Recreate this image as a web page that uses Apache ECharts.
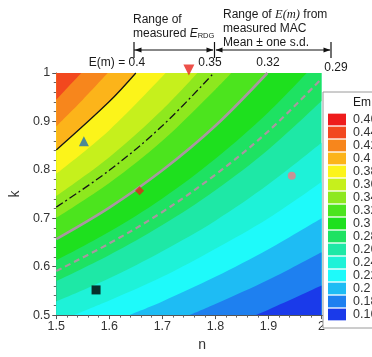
<!DOCTYPE html>
<html><head><meta charset="utf-8">
<script src="https://cdn.jsdelivr.net/npm/echarts@6/dist/echarts.min.js"></script>
<style>html,body{margin:0;padding:0;background:#fff}#c{width:372px;height:357px}</style>
</head><body><div id="c"></div>
<script>
// ---- data ----
const xTicks = [1.5, 1.6, 1.7, 1.8, 1.9, 2];
const yTicks = [0.5, 0.6, 0.7, 0.8, 0.9, 1];
const nDomain = [1.5, 2.0];
const kDomain = [0.5, 1.0];
const legendLabels = ['0.46','0.44','0.42','0.4','0.38','0.36','0.34','0.32','0.3','0.28','0.26','0.24','0.22','0.2','0.18','0.16'];
const bandColors = ['#ee1c1c','#f2481e','#f7861c','#fcb41a','#fcf41a','#c6f01c','#8ee81e','#4ce41e','#1ee01e','#1ee262','#1ee8a6','#1ef2d8','#1efafa','#1ebcf4','#1e80f0','#1a3aea'];

// contour lines E(m)=level, points [n, k]
const c044 = [[1.5,0.945],[1.547,1.0]];
const c042 = [[1.5,0.890],[1.55,0.945],[1.597,1.0]];
const c040 = [[1.5,0.841],[1.6,0.941],[1.650,1.0]];
const c038 = [[1.5,0.792],[1.6,0.882],[1.706,1.0]];
const c036 = [[1.5,0.746],[1.6,0.826],[1.7,0.924],[1.766,1.0]];
const c035 = [[1.5,0.723],[1.6,0.799],[1.7,0.891],[1.797,1.0]];
const c034 = [[1.5,0.701],[1.6,0.773],[1.7,0.860],[1.8,0.966],[1.830,1.0]];
const c032 = [[1.5,0.657],[1.6,0.722],[1.7,0.799],[1.8,0.891],[1.898,1.0]];
const c030 = [[1.5,0.613],[1.6,0.672],[1.7,0.741],[1.8,0.823],[1.9,0.919],[1.972,1.0]];
const c029 = [[1.5,0.591],[1.6,0.648],[1.7,0.713],[1.8,0.790],[1.9,0.880],[2.0,0.988]];
const c028 = [[1.5,0.570],[1.6,0.624],[1.7,0.686],[1.8,0.758],[1.9,0.842],[2.0,0.942]];
const c026 = [[1.5,0.528],[1.6,0.576],[1.7,0.632],[1.8,0.695],[1.9,0.770],[2.0,0.856]];
const c024 = [[1.533,0.5],[1.6,0.530],[1.7,0.579],[1.8,0.637],[1.9,0.700],[2.0,0.775]];
const c022 = [[1.638,0.5],[1.7,0.528],[1.8,0.579],[1.9,0.636],[2.0,0.700]];
const c020 = [[1.751,0.5],[1.8,0.523],[1.9,0.573],[2.0,0.630]];
const c018 = [[1.876,0.5],[1.9,0.511],[2.0,0.561]];

// markers
const markerN = [1.552, 1.750, 1.657, 1.944, 1.575];
const markerK = [0.859, 1.006, 0.757, 0.788, 0.552];
const markerSymbol = ['triangle','triangle','diamond','circle','rect'];
const markerRotate = [0, 180, 0, 0, 0];
const markerSize = [10, 11, 9, 8, 9];
const markerColor = ['#1f6db5','#e8241c','#e2231a','#f07b86','#000000'];

// ---- build ----
const colorOf = lbl => bandColors[legendLabels.indexOf(lbl)];
const FONT = 'Liberation Sans, Arial, sans-serif';
const SMOOTH = 0.35;

function fill(name, pts, origin) {
  const c = colorOf(name);
  return {
    type: 'line', name: name, data: pts, smooth: SMOOTH,
    symbol: 'none', color: c, itemStyle: {color: c},
    lineStyle: {width: 0, color: c},
    areaStyle: {color: c, opacity: 1, origin: origin},
    silent: true, z: 1
  };
}
function contour(pts, color, width, type) {
  return {
    type: 'line', data: pts, smooth: SMOOTH, symbol: 'none',
    lineStyle: {color: color, width: width, type: type}, silent: true, z: 3
  };
}

const series = [];
series.push({type:'line', name:'0.46', data:[], color: colorOf('0.46'), itemStyle:{color: colorOf('0.46')}});
// base band 0.26-0.28 over the whole domain
series.push(fill('0.26', [[nDomain[0], kDomain[0]], [nDomain[1], kDomain[0]]], 'end'));
// lower bands (fill below the contour)
series.push(fill('0.24', c026, 'start'));
series.push(fill('0.22', c024, 'start'));
series.push(fill('0.2', c022, 'start'));
series.push(fill('0.18', c020, 'start'));
series.push(fill('0.16', c018, 'start'));
// upper bands (fill above the contour)
series.push(fill('0.28', c028, 'end'));
series.push(fill('0.3', c030, 'end'));
series.push(fill('0.32', c032, 'end'));
series.push(fill('0.34', c034, 'end'));
series.push(fill('0.36', c036, 'end'));
series.push(fill('0.38', c038, 'end'));
series.push(fill('0.4', c040, 'end'));
series.push(fill('0.42', c042, 'end'));
series.push(fill('0.44', c044, 'end'));
// highlighted contours
series.push(contour(c040, '#151515', 1.3, 'solid'));
series.push(contour(c035, '#151515', 1.3, [8, 3, 2, 3]));
series.push(contour(c032, '#a8989f', 2.6, 'solid'));
series.push(contour(c029, '#a8989f', 2.2, [6, 4]));
// markers
for (let i = 0; i < markerN.length; i++) {
  series.push({
    type: 'scatter', data: [[markerN[i], markerK[i]]], symbol: markerSymbol[i],
    symbolRotate: markerRotate[i], symbolSize: markerSize[i],
    itemStyle: {color: markerColor[i]}, clip: false, z: 5, silent: true
  });
}

const tri = (x, y, dir) => ({type:'polygon', shape:{points:[[x,y],[x+7*dir,y-2.6],[x+7*dir,y+2.6]]}, style:{fill:'#111'}, z:100});
const vbar = x => ({type:'line', shape:{x1:x,y1:42,x2:x,y2:58}, style:{stroke:'#111', lineWidth:1.2}, z:100});
const hline = (x1, x2) => ({type:'line', shape:{x1:x1,y1:50,x2:x2,y2:50}, style:{stroke:'#111', lineWidth:1}, z:100});
const txt = (x, y, t, extra) => Object.assign({type:'text', x:x, y:y, z:100,
  style: Object.assign({text:t, fill:'#1a1a1a', font:'12px '+FONT, textAlign:'left', align:'left', textVerticalAlign:'middle', verticalAlign:'middle'}, extra || {})});

const graphic = [
  txt(133, 20, 'Range of'),
  txt(133, 34, '{a|measured }{b|E}{c|RDG}', {rich:{a:{font:'12px '+FONT, fill:'#1a1a1a'}, b:{font:'italic 12px '+FONT, fill:'#1a1a1a'}, c:{font:'7.5px '+FONT, fill:'#1a1a1a', verticalAlign:'bottom', lineHeight:8}}}),
  txt(223, 15, '{a|Range of }{e|E(m)}{a| from}', {rich:{a:{font:'12px '+FONT, fill:'#1a1a1a'}, e:{font:'italic 12.5px Liberation Serif, Times New Roman, serif', fill:'#1a1a1a'}}}),
  txt(223, 29, 'measured MAC'),
  txt(223, 43, 'Mean \u00b1 one s.d.'),
  vbar(134), vbar(214.5), vbar(331),
  hline(134, 213), hline(216, 330),
  tri(134.5, 50, 1), tri(213.5, 50, -1), tri(215.5, 50, 1), tri(330.5, 50, -1),
  txt(117, 63, 'E(m) = 0.4', {textAlign:'center', align:'center'}),
  txt(210, 63, '0.35', {textAlign:'center', align:'center'}),
  txt(268, 63, '0.32', {textAlign:'center', align:'center'}),
  txt(336, 68, '0.29', {textAlign:'center', align:'center'}),
  txt(353, 103, 'Em')
];

const axisCommon = {
  type: 'value', interval: 0.1,
  axisLine: {show: true, lineStyle: {color: '#555', width: 1}},
  axisTick: {show: true, length: 4, lineStyle: {color: '#555'}},
  minorTick: {show: true, splitNumber: 5, length: 2.5, lineStyle: {color: '#666'}},
  splitLine: {show: false},
  nameTextStyle: {fontFamily: FONT, fontSize: 14, color: '#333'}
};

const chart = echarts.init(document.getElementById('c'), null, {renderer: 'canvas'});
chart.setOption({
  animation: false,
  backgroundColor: '#fff',
  grid: {left: 53, right: 24, top: 73, bottom: 29, containLabel: false},
  xAxis: Object.assign({}, axisCommon, {
    min: nDomain[0], max: 2.05, name: 'n', nameLocation: 'middle', nameGap: 16,
    axisLabel: {fontFamily: FONT, fontSize: 12.5, color: '#333', margin: 5, showMaxLabel: false,
      formatter: v => { const t = xTicks.find(a => Math.abs(a - v) < 1e-6); return t === undefined ? '' : String(t); }}
  }),
  yAxis: Object.assign({}, axisCommon, {
    min: kDomain[0], max: kDomain[1], name: 'k', nameLocation: 'middle', nameGap: 28,
    axisLabel: {fontFamily: FONT, fontSize: 12.5, color: '#333', margin: 6,
      formatter: v => { const t = yTicks.find(a => Math.abs(a - v) < 1e-6); return t === undefined ? '' : String(t); }}
  }),
  legend: {
    orient: 'vertical', left: 323, top: 92, padding: [21, 40, 7, 5],
    backgroundColor: '#fff', borderColor: '#9a9a9a', borderWidth: 1,
    itemWidth: 18, itemHeight: 11.7, itemGap: 0, icon: 'rect', selectedMode: false,
    itemStyle: {borderWidth: 0},
    textStyle: {fontFamily: FONT, fontSize: 12.5, color: '#333', lineHeight: 11.7, padding: [0, 0, 0, 2]},
    data: legendLabels
  },
  graphic: graphic,
  series: series
});
</script></body></html>
